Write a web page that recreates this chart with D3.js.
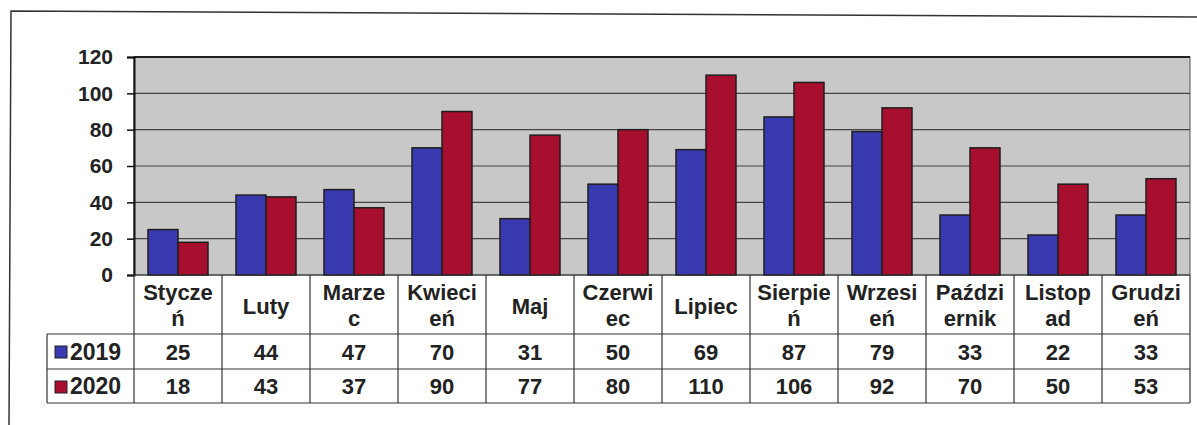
<!DOCTYPE html>
<html>
<head>
<meta charset="utf-8">
<script src="https://cdn.jsdelivr.net/npm/d3@7"></script>
<style>
  body { margin: 0; background: #fff; }
  svg { display: block; font-family: "Liberation Sans", Arial, sans-serif; font-weight: bold; }
</style>
</head>
<body>
<svg id="chart" width="1197" height="425"></svg>
<script>
const miesiace = [["Stycze", "ń"], ["Luty"], ["Marze", "c"], ["Kwieci", "eń"], ["Maj"], ["Czerwi", "ec"],
  ["Lipiec"], ["Sierpie", "ń"], ["Wrzesi", "eń"], ["Paździ", "ernik"], ["Listop", "ad"], ["Grudzi", "eń"]];
const lata = ["2019", "2020"];
const wartosci2019 = [25, 44, 47, 70, 31, 50, 69, 87, 79, 33, 22, 33];
const wartosci2020 = [18, 43, 37, 90, 77, 80, 110, 106, 92, 70, 50, 53];
const tickiY = [0, 20, 40, 60, 80, 100, 120];
const kolory = { "2019": "#3a3ab0", "2020": "#a80e2e" };

const svg = d3.select("#chart");

const seria = { "2019": wartosci2019, "2020": wartosci2020 };
const klucze = miesiace.map(m => m.join(""));
const dane = klucze.map((k, i) => ({ mies: k, linie: miesiace[i], "2019": wartosci2019[i], "2020": wartosci2020[i] }));

// obramowanie całości (lekko krzywy skan)
svg.append("path")
  .attr("d", "M9,425 L11,11 L1197,17")
  .attr("fill", "none")
  .attr("stroke", "#333")
  .attr("stroke-width", 1.5);

const plot = { left: 134, right: 1190, top: 57, bottom: 275 };

const x0 = d3.scaleBand().domain(klucze).range([plot.left, plot.right]);
const x1 = d3.scaleBand().domain(lata).range([0, x0.bandwidth()]).paddingOuter(0.467);
const y = d3.scaleLinear().domain([0, 120]).range([plot.bottom, plot.top]);

// tło wykresu
svg.append("rect")
  .attr("x", plot.left).attr("y", plot.top)
  .attr("width", plot.right - plot.left).attr("height", plot.bottom - plot.top)
  .attr("fill", "#c8c8c8")
  .attr("stroke", "#555").attr("stroke-width", 1);

// linie siatki
svg.append("g")
  .selectAll("line")
  .data(tickiY.filter(t => t > 0 && t < 120))
  .join("line")
  .attr("x1", plot.left).attr("x2", plot.right)
  .attr("y1", d => y(d)).attr("y2", d => y(d))
  .attr("stroke", "#444").attr("stroke-width", 1.2);

svg.append("line")
  .attr("x1", plot.left).attr("x2", plot.right)
  .attr("y1", plot.top).attr("y2", plot.top)
  .attr("stroke", "#222").attr("stroke-width", 2);

// oś Y
const osY = d3.axisLeft(y).tickValues(tickiY).tickSize(7).tickPadding(14);
svg.append("g")
  .attr("transform", `translate(${plot.left},0)`)
  .call(osY)
  .call(g => g.select(".domain").attr("stroke", "#111").attr("stroke-width", 2))
  .call(g => g.selectAll(".tick line").attr("stroke", "#111").attr("stroke-width", 1.5))
  .call(g => g.selectAll("text").attr("font-size", 21).attr("font-weight", "bold")
    .attr("fill", "#222").attr("font-family", "Liberation Sans, Arial, sans-serif"));

// słupki
svg.append("g")
  .selectAll("g")
  .data(dane)
  .join("g")
  .attr("transform", d => `translate(${x0(d.mies)},0)`)
  .selectAll("rect")
  .data(d => lata.map(r => ({ rok: r, v: d[r] })))
  .join("rect")
  .attr("x", d => x1(d.rok))
  .attr("width", x1.bandwidth())
  .attr("y", d => y(d.v))
  .attr("height", d => y(0) - y(d.v))
  .attr("fill", d => kolory[d.rok])
  .attr("stroke", "#1e1e1e")
  .attr("stroke-width", 1.5);

// tabela danych
const wiersze = { head: [275, 334], "2019": [334, 369], "2020": [369, 403] };
const tabLeft = 47;
const t = svg.append("g").attr("stroke", "#333").attr("stroke-width", 1.2);

// linie poziome
t.append("line").attr("x1", plot.left).attr("x2", plot.right).attr("y1", 275).attr("y2", 275);
[334, 369, 403].forEach(yy => t.append("line").attr("x1", tabLeft).attr("x2", plot.right).attr("y1", yy).attr("y2", yy));
// linie pionowe
t.selectAll("line.kol")
  .data(klucze.concat(["koniec"]))
  .join("line")
  .attr("class", "kol")
  .attr("x1", d => d === "koniec" ? plot.right : x0(d))
  .attr("x2", d => d === "koniec" ? plot.right : x0(d))
  .attr("y1", 275).attr("y2", 403);
t.append("line").attr("x1", tabLeft).attr("x2", tabLeft).attr("y1", 334).attr("y2", 403);

// nagłówki miesięcy
svg.append("g")
  .selectAll("text")
  .data(dane)
  .join("text")
  .attr("text-anchor", "middle")
  .attr("font-size", 22)
  .attr("fill", "#222")
  .attr("x", d => x0(d.mies) + x0.bandwidth() / 2)
  .each(function (d) {
    const el = d3.select(this);
    if (d.linie.length === 1) {
      el.append("tspan").attr("x", x0(d.mies) + x0.bandwidth() / 2).attr("y", 314).text(d.linie[0]);
    } else {
      d.linie.forEach((l, i) => el.append("tspan")
        .attr("x", x0(d.mies) + x0.bandwidth() / 2).attr("y", 300 + i * 26).text(l));
    }
  });

// wiersze z wartościami
lata.forEach(rok => {
  const [g0, g1] = wiersze[rok];
  const base = g1 - 9;
  svg.append("g")
    .selectAll("text")
    .data(seria[rok])
    .join("text")
    .attr("text-anchor", "middle")
    .attr("font-size", 22)
    .attr("fill", "#222")
    .attr("x", (d, i) => x0(klucze[i]) + x0.bandwidth() / 2)
    .attr("y", base)
    .text(d => d);

  svg.append("rect")
    .attr("x", 55).attr("y", g0 + 12)
    .attr("width", 12).attr("height", 12)
    .attr("fill", kolory[rok])
    .attr("stroke", "#222").attr("stroke-width", 1);

  svg.append("text")
    .attr("x", 70).attr("y", base)
    .attr("font-size", 23)
    .attr("fill", "#222")
    .text(rok);
});
</script>
</body>
</html>
